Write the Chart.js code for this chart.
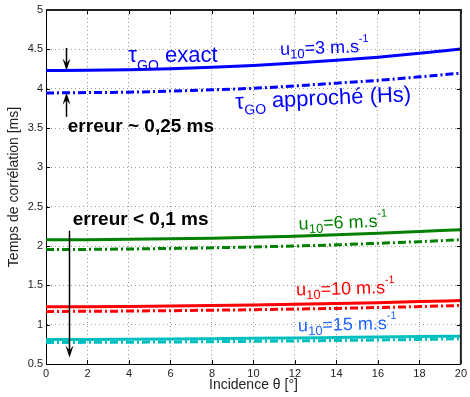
<!DOCTYPE html>
<html>
<head>
<meta charset="utf-8">
<script src="https://cdn.jsdelivr.net/npm/chart.js@4/dist/chart.umd.min.js"></script>
<style>
  html, body { margin: 0; padding: 0; background: #fff; }
  #wrap { width: 470px; height: 397px; position: relative; }
</style>
</head>
<body>
<div id="wrap"><canvas id="c"></canvas></div>
<script>
// Incidence angle (degrees)
const incidence = [0, 2, 4, 6, 8, 10, 12, 14, 16, 18, 20];

// Correlation time [ms] — exact and approximate (Hs) for each wind speed u10
const exactU3   = [4.230, 4.233, 4.240, 4.253, 4.272, 4.295, 4.325, 4.360, 4.400, 4.450, 4.505];
const approxU3  = [3.945, 3.950, 3.955, 3.970, 3.985, 4.005, 4.035, 4.070, 4.105, 4.150, 4.197];
const exactU6   = [2.080, 2.081, 2.085, 2.091, 2.100, 2.111, 2.125, 2.143, 2.163, 2.185, 2.208];
const approxU6  = [1.955, 1.957, 1.962, 1.969, 1.977, 1.988, 2.000, 2.015, 2.034, 2.055, 2.080];
const exactU10  = [1.227, 1.228, 1.232, 1.237, 1.243, 1.250, 1.259, 1.269, 1.280, 1.293, 1.307];
const approxU10 = [1.168, 1.170, 1.173, 1.178, 1.184, 1.190, 1.198, 1.207, 1.218, 1.230, 1.244];
const exactU15  = [0.812, 0.813, 0.815, 0.818, 0.822, 0.826, 0.831, 0.837, 0.843, 0.848, 0.854];
const approxU15 = [0.774, 0.775, 0.777, 0.780, 0.784, 0.788, 0.793, 0.799, 0.805, 0.812, 0.821];

// Axis ticks
const xTicks = [0, 2, 4, 6, 8, 10, 12, 14, 16, 18, 20];
const yTicks = [0.5, 1, 1.5, 2, 2.5, 3, 3.5, 4, 4.5, 5];

const BLUE = '#0000ff', GREEN = '#008000', RED = '#ff0000', CYAN = '#00bfbf';
const DASHDOT = [8, 3, 2, 3];
const FONT = '"Liberation Sans", Arial, Helvetica, sans-serif';

const pts = arr => incidence.map((x, i) => ({ x: x, y: arr[i] }));
const line = (arr, color, dashed) => ({
  data: pts(arr),
  borderColor: color,
  borderWidth: 3,
  borderDash: dashed ? DASHDOT : [],
  pointRadius: 0,
  cubicInterpolationMode: 'monotone',
  fill: false
});

// Rich text parts: [text, fontSize, baselineShift, bold]
const u10Label = (speed) => [['u', 18, 0], ['10', 13, 4], ['=' + speed + ' m.s', 18, 0], ['-1', 11, -10]];
const annotations = [
  { x: 3.97,  y: 4.34,  color: BLUE,      rot: 0,    parts: [['τ', 22, 0], ['GO', 14, 8], [' exact', 22, 0]] },
  { x: 11.29, y: 4.429, color: BLUE,      rot: -2,   parts: u10Label('3') },
  { x: 9.14,  y: 3.744, color: BLUE,      rot: -2.5, parts: [['τ', 22, 0], ['GO', 14, 6], [' approché (Hs)', 22, 0]] },
  { x: 1.05,  y: 3.452, color: '#000',    rot: 0,    parts: [['erreur ~ 0,25 ms', 19, 0, true]] },
  { x: 1.29,  y: 2.272, color: '#000',    rot: 0,    parts: [['erreur < 0,1 ms', 19, 0, true]] },
  { x: 12.19, y: 2.208, color: GREEN,     rot: -2,   parts: u10Label('6') },
  { x: 12.06, y: 1.370, color: RED,       rot: -1.5, parts: u10Label('10') },
  { x: 12.15, y: 0.914, color: '#1e64ff', rot: -1.5, parts: u10Label('15') }
];

// Error arrows: [x, yFrom, yTip]
const arrows = [
  [0.95, 4.518, 4.232],
  [0.95, 3.642, 3.947],
  [1.10, 2.195, 0.584]
];

function drawRich(ctx, x, y, parts, color, rotDeg) {
  ctx.save();
  ctx.translate(x, y);
  ctx.rotate(rotDeg * Math.PI / 180);
  ctx.fillStyle = color;
  ctx.textBaseline = 'alphabetic';
  ctx.textAlign = 'left';
  let cx = 0;
  for (const [t, size, dy, bold] of parts) {
    ctx.font = (bold ? 'bold ' : '') + size + 'px ' + FONT;
    ctx.fillText(t, cx, dy);
    cx += ctx.measureText(t).width;
  }
  ctx.restore();
}

function drawArrow(ctx, x, y0, y1) {
  const dir = Math.sign(y1 - y0);
  const len = 12, hw = 4;
  ctx.save();
  ctx.strokeStyle = '#000';
  ctx.fillStyle = '#000';
  ctx.lineWidth = 1.5;
  ctx.beginPath();
  ctx.moveTo(x, y0);
  ctx.lineTo(x, y1 - dir * len * 0.6);
  ctx.stroke();
  ctx.beginPath();
  ctx.moveTo(x, y1);
  ctx.lineTo(x - hw, y1 - dir * len);
  ctx.lineTo(x, y1 - dir * len * 0.6);
  ctx.lineTo(x + hw, y1 - dir * len);
  ctx.closePath();
  ctx.fill();
  ctx.restore();
}

const framePlugin = {
  id: 'frame',
  afterDatasetsDraw(chart) {
    const { ctx, chartArea: a, scales: { x, y } } = chart;
    ctx.save();
    // inward ticks on all four sides
    ctx.strokeStyle = '#000';
    ctx.lineWidth = 1;
    ctx.beginPath();
    for (const v of xTicks) {
      const px = Math.round(x.getPixelForValue(v)) + 0.5;
      ctx.moveTo(px, a.bottom); ctx.lineTo(px, a.bottom - 4);
      ctx.moveTo(px, a.top);    ctx.lineTo(px, a.top + 4);
    }
    for (const v of yTicks) {
      const py = Math.round(y.getPixelForValue(v)) + 0.5;
      ctx.moveTo(a.left, py);  ctx.lineTo(a.left + 4, py);
      ctx.moveTo(a.right, py); ctx.lineTo(a.right - 4, py);
    }
    ctx.stroke();
    // box: top and right edges
    ctx.strokeStyle = '#222';
    ctx.lineWidth = 2;
    ctx.beginPath();
    ctx.moveTo(a.left, a.top);
    ctx.lineTo(a.right, a.top);
    ctx.lineTo(a.right, a.bottom);
    ctx.stroke();
    ctx.restore();

    for (const an of annotations) {
      drawRich(ctx, x.getPixelForValue(an.x), y.getPixelForValue(an.y), an.parts, an.color, an.rot);
    }
    for (const [ax, y0, y1] of arrows) {
      drawArrow(ctx, Math.round(x.getPixelForValue(ax)) + 0.5, y.getPixelForValue(y0), y.getPixelForValue(y1));
    }
  }
};

new Chart(document.getElementById('c'), {
  type: 'line',
  data: {
    datasets: [
      line(exactU3, BLUE, false),   line(approxU3, BLUE, true),
      line(exactU6, GREEN, false),  line(approxU6, GREEN, true),
      line(exactU10, RED, false),   line(approxU10, RED, true),
      line(exactU15, CYAN, false),  line(approxU15, CYAN, true)
    ]
  },
  options: {
    responsive: true,
    maintainAspectRatio: false,
    animation: false,
    devicePixelRatio: 1,
    layout: { padding: { top: 10, right: 6, left: 0, bottom: 0 } },
    plugins: { legend: { display: false }, tooltip: { enabled: false } },
    scales: {
      x: {
        type: 'linear',
        min: 0, max: 20,
        afterBuildTicks: s => { s.ticks = xTicks.map(v => ({ value: v })); },
        afterFit: s => { s.height = 33; },
        ticks: { color: '#222', font: { size: 11, family: FONT }, padding: 3, maxRotation: 0,
                 callback: v => String(v) },
        grid: { color: '#9a9a9a', lineWidth: 1, drawTicks: false },
        border: { display: true, color: '#000', width: 1, dash: [1, 3] },
        title: { display: true, text: 'Incidence θ [°]', color: '#222',
                 font: { size: 14, family: FONT }, padding: { top: 0, bottom: 3 } }
      },
      y: {
        type: 'linear',
        min: 0.5, max: 5,
        afterBuildTicks: s => { s.ticks = yTicks.map(v => ({ value: v })); },
        afterFit: s => { s.width = 46; },
        ticks: { color: '#222', font: { size: 11, family: FONT }, padding: 3,
                 callback: v => String(v) },
        grid: { color: '#9a9a9a', lineWidth: 1, drawTicks: false },
        border: { display: true, color: '#000', width: 1, dash: [1, 3] },
        title: { display: true, text: 'Temps de corrélation [ms]', color: '#222',
                 font: { size: 14, family: FONT }, padding: { top: 6, bottom: 0 } }
      }
    }
  },
  plugins: [framePlugin]
});
</script>
</body>
</html>
